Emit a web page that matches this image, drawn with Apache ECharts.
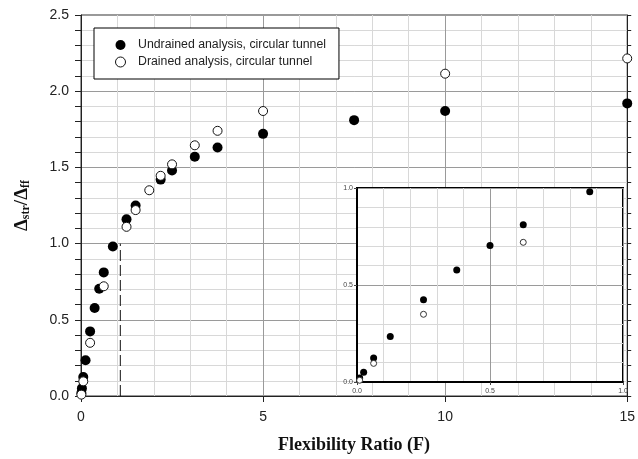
<!DOCTYPE html>
<html>
<head>
<meta charset="utf-8">
<style>
  html, body { margin: 0; padding: 0; background: #fff; }
  #chart { width: 638px; height: 459px; }
</style>
<script src="https://cdn.jsdelivr.net/npm/echarts@6/dist/echarts.min.js"></script>
</head>
<body>
<div id="chart"></div>
<script>
(function () {
  'use strict';

  // ── Data ──

  var undrainedF = [0.01, 0.025, 0.0625, 0.125, 0.25, 0.375, 0.5, 0.625, 0.875, 1.25, 1.5, 2.1875, 2.5, 3.125, 3.75, 5, 7.5, 10, 15];
  var undrainedR = [0.02, 0.05, 0.124, 0.235, 0.424, 0.577, 0.704, 0.811, 0.981, 1.16, 1.25, 1.42, 1.48, 1.57, 1.63, 1.72, 1.81, 1.87, 1.92];

  var drainedF = [0.01, 0.0625, 0.25, 0.625, 1.25, 1.5, 1.875, 2.1875, 2.5, 3.125, 3.75, 5, 10, 15];
  var drainedR = [0.009, 0.096, 0.349, 0.72, 1.11, 1.22, 1.35, 1.445, 1.52, 1.645, 1.74, 1.87, 2.115, 2.215];

  var dashF = [1.08, 1.08];
  var dashR = [0, 1.0];

  var insetMax = 1.0;

  var UNDRAINED = 'Undrained analysis, circular tunnel';
  var DRAINED = 'Drained analysis, circular tunnel';

  // ── Helpers ──

  function pairs(xs, ys, maxX) {
    var out = [];
    xs.forEach(function (x, i) {
      if (maxX == null || x <= maxX) out.push([x, ys[i]]);
    });
    return out;
  }

  var SANS = 'Liberation Sans, Arial, sans-serif';
  var SERIF = 'Liberation Serif, Times New Roman, serif';
  var MINOR = { show: true, lineStyle: { color: '#d8d8d8', width: 1 } };

  function fmt1(v) { return v.toFixed(1); }

  var chart = echarts.init(document.getElementById('chart'), null, { renderer: 'canvas' });

  chart.setOption({
    animation: false,
    legend: {
      left: 94,
      top: 28,
      orient: 'vertical',
      data: [
        { name: UNDRAINED },
        { name: DRAINED, itemStyle: { color: '#fff', borderColor: '#111', borderWidth: 1 } }
      ],
      backgroundColor: '#fff',
      borderColor: '#000',
      borderWidth: 1,
      padding: [10, 13, 10, 21],
      itemGap: 3,
      itemWidth: 25,
      itemHeight: 10,
      selectedMode: false,
      textStyle: { fontFamily: SANS, fontSize: 12.3, color: '#222', lineHeight: 14 },
      z: 20
    },
    grid: [
      {
        left: 81, right: 6, top: 15, bottom: 58,
        show: true, borderColor: '#333', borderWidth: 1
      },
      {
        left: 357, top: 188, width: 266, height: 194,
        show: true, backgroundColor: '#fff', borderColor: '#000', borderWidth: 2,
        z: 10
      }
    ],
    xAxis: [
      {
        gridIndex: 0, type: 'value', min: 0, max: 15, interval: 5,
        name: 'Flexibility Ratio (F)', nameLocation: 'middle', nameGap: 40,
        nameTextStyle: { fontFamily: SERIF, fontWeight: 'bold', fontSize: 18, color: '#111' },
        axisLine: { lineStyle: { color: '#222' } },
        axisTick: { show: true, length: 6, inside: false, lineStyle: { color: '#222' } },
        minorTick: { show: false, splitNumber: 5 },
        axisLabel: { fontFamily: SANS, fontSize: 14, color: '#222', margin: 14 },
        splitLine: { lineStyle: { color: '#9a9a9a' } },
        minorSplitLine: MINOR
      },
      {
        gridIndex: 1, type: 'value', min: 0, max: insetMax, interval: 0.5,
        axisLine: { lineStyle: { color: '#000', width: 2 } },
        axisTick: { show: true, length: 3, lineStyle: { color: '#444' } },
        minorTick: { show: false, splitNumber: 5 },
        axisLabel: { fontFamily: SANS, fontSize: 7, color: '#444', margin: 6, formatter: fmt1 },
        splitLine: { lineStyle: { color: '#9a9a9a' } },
        minorSplitLine: MINOR,
        z: 11
      }
    ],
    yAxis: [
      {
        gridIndex: 0, type: 'value', min: 0, max: 2.5, interval: 0.5,
        name: '{b|Δ}{s|str}{b|/Δ}{s|ff}', nameLocation: 'middle', nameGap: 49,
        nameTextStyle: {
          rich: {
            b: { fontFamily: SERIF, fontWeight: 'bold', fontSize: 19, color: '#111' },
            s: { fontFamily: SERIF, fontWeight: 'bold', fontSize: 12, color: '#111', verticalAlign: 'bottom', padding: [8, 0, 0, 0] }
          }
        },
        axisLine: { show: true, lineStyle: { color: '#222' } },
        axisTick: { show: true, length: 6, lineStyle: { color: '#222' } },
        minorTick: { show: true, splitNumber: 5, length: 6, lineStyle: { color: '#222' } },
        axisLabel: { fontFamily: SANS, fontSize: 14, color: '#222', margin: 12, formatter: fmt1 },
        splitLine: { lineStyle: { color: '#9a9a9a' } },
        minorSplitLine: MINOR
      },
      {
        gridIndex: 0, type: 'value', min: 0, max: 2.5, interval: 0.5, position: 'right',
        axisLine: { show: true, lineStyle: { color: '#222' } },
        axisTick: { show: true, length: 4, lineStyle: { color: '#222' } },
        minorTick: { show: true, splitNumber: 5, length: 4, lineStyle: { color: '#222' } },
        axisLabel: { show: false },
        splitLine: { show: false }
      },
      {
        gridIndex: 1, type: 'value', min: 0, max: insetMax, interval: 0.5,
        axisLine: { show: true, lineStyle: { color: '#000', width: 2 } },
        axisTick: { show: true, length: 3, lineStyle: { color: '#444' } },
        axisLabel: { fontFamily: SANS, fontSize: 7, color: '#444', margin: 4, formatter: fmt1 },
        splitLine: { lineStyle: { color: '#9a9a9a' } },
        minorSplitLine: MINOR,
        minorTick: { show: false, splitNumber: 5 },
        z: 11
      }
    ],
    series: [
      {
        type: 'line', xAxisIndex: 0, yAxisIndex: 0, silent: true,
        data: pairs(dashF, dashR), symbol: 'none',
        lineStyle: { color: '#111', width: 1, type: [11, 4] }, z: 1
      },
      {
        name: UNDRAINED, type: 'scatter', xAxisIndex: 0, yAxisIndex: 0,
        data: pairs(undrainedF, undrainedR), symbol: 'circle', symbolSize: 10,
        itemStyle: { color: '#000', opacity: 1 }, z: 3
      },
      {
        name: DRAINED, type: 'scatter', xAxisIndex: 0, yAxisIndex: 0,
        data: pairs(drainedF, drainedR), symbol: 'circle', symbolSize: 9,
        itemStyle: { color: '#fff', borderColor: '#111', borderWidth: 1, opacity: 1 }, z: 4
      },
      {
        name: UNDRAINED, type: 'scatter', xAxisIndex: 1, yAxisIndex: 2,
        data: pairs(undrainedF, undrainedR, insetMax), symbol: 'circle', symbolSize: 7,
        itemStyle: { color: '#000', opacity: 1 }, z: 12
      },
      {
        name: DRAINED, type: 'scatter', xAxisIndex: 1, yAxisIndex: 2,
        data: pairs(drainedF, drainedR, insetMax), symbol: 'circle', symbolSize: 6,
        itemStyle: { color: '#fff', borderColor: '#333', borderWidth: 1, opacity: 1 }, z: 13
      }
    ]
  });
})();
</script>
</body>
</html>
